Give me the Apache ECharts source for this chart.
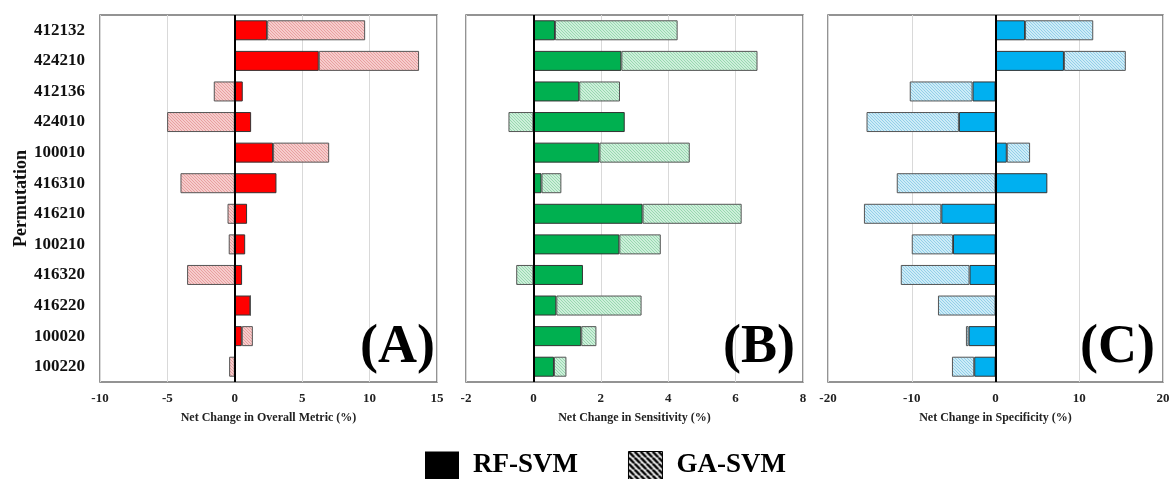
<!DOCTYPE html>
<html>
<head>
<meta charset="utf-8">
<script src="https://cdn.jsdelivr.net/npm/echarts@6/dist/echarts.min.js"></script>
<style>
html,body{margin:0;padding:0;background:#fff;}
#chart{width:1173px;height:479px;}
</style>
</head>
<body>
<div id="chart"></div>
<script>
// ---- data ----
var categories = ['412132','424210','412136','424010','100010','416310','416210','100210','416320','416220','100020','100220'];
// Panel A: Net change in overall metric (%)
var rfOverall = [2.40, 6.23, 0.59, 1.21, 2.84, 3.09, 0.91, 0.77, 0.54, 1.16, 0.52, 0.00];
var gaOverall = [7.27, 7.44, -1.56, -5.02, 4.16, -4.03, -0.54, -0.45, -3.54, 0.00, 0.82, -0.42];
// Panel B: Net change in sensitivity (%)
var rfSens = [0.64, 2.61, 1.36, 2.71, 1.96, 0.24, 3.24, 2.55, 1.47, 0.68, 1.42, 0.61];
var gaSens = [3.64, 4.04, 1.21, -0.74, 2.68, 0.59, 2.94, 1.23, -0.51, 2.53, 0.45, 0.37];
// Panel C: Net change in specificity (%)
var rfSpec = [3.53, 8.17, -2.74, -4.37, 1.35, 6.19, -6.47, -5.08, -3.10, 0.00, -3.21, -2.54];
var gaSpec = [8.14, 7.39, -7.50, -11.03, 2.78, -11.79, -9.24, -4.92, -8.21, -6.87, -0.32, -2.66];
var seriesNames = ['RF-SVM', 'GA-SVM'];
var axisTitles = ['Net Change in Overall Metric (%)', 'Net Change in Sensitivity (%)', 'Net Change in Specificity (%)'];
var panelLabels = ['(A)', '(B)', '(C)'];

// ---- styling ----
var FONT = '"Liberation Serif", "Times New Roman", serif';
function hatch(bg, fg, lw, s) {
  var c = document.createElement('canvas');
  c.width = s; c.height = s;
  var ctx = c.getContext('2d');
  ctx.fillStyle = bg; ctx.fillRect(0, 0, s, s);
  ctx.strokeStyle = fg; ctx.lineWidth = lw;
  [-s, 0, s].forEach(function (k) {
    ctx.beginPath(); ctx.moveTo(k, 0); ctx.lineTo(k + s, s); ctx.stroke();
  });
  return { image: c, repeat: 'repeat' };
}
var panels = [
  { rf: rfOverall, ga: gaOverall, min: -10, max: 15, interval: 5, solid: '#ff0000', hatch: hatch('#f6cccc', '#e8a0a0', 1, 3), left: 100, width: 337 },
  { rf: rfSens, ga: gaSens, min: -2, max: 8, interval: 2, solid: '#00b050', hatch: hatch('#cdefda', '#98d8b0', 1, 3), left: 466, width: 337 },
  { rf: rfSpec, ga: gaSpec, min: -20, max: 20, interval: 10, solid: '#00b0f0', hatch: hatch('#cdebf7', '#92cfe8', 1, 3), left: 828, width: 335 }
];

var grids = [], xAxes = [], yAxes = [], series = [];
panels.forEach(function (p, i) {
  grids.push({ left: p.left, width: p.width, top: 15, height: 367, show: true, borderColor: '#707070', borderWidth: 1.5, backgroundColor: '#fff' });
  xAxes.push({
    type: 'value', gridIndex: i, min: p.min, max: p.max, interval: p.interval,
    name: axisTitles[i], nameLocation: 'middle', nameGap: 30,
    nameTextStyle: { fontFamily: FONT, fontWeight: 'bold', fontSize: 12, color: '#222' },
    axisLine: { show: false }, axisTick: { show: false },
    axisLabel: { fontFamily: FONT, fontWeight: 'bold', fontSize: 13, color: '#222', margin: 10 },
    splitLine: { show: true, lineStyle: { color: '#d9d9d9', width: 1 } }
  });
  yAxes.push({
    type: 'category', gridIndex: i, data: categories, inverse: true,
    name: i === 0 ? 'Permutation' : '', nameLocation: 'middle', nameGap: 70, nameRotate: 90,
    nameTextStyle: { fontFamily: FONT, fontWeight: 'bold', fontSize: 18, color: '#111' },
    axisLine: { show: false }, axisTick: { show: false },
    axisLabel: { show: i === 0, fontFamily: FONT, fontWeight: 'bold', fontSize: 17, color: '#111', margin: 15 },
    splitLine: { show: false }
  });
  series.push({
    name: seriesNames[0], type: 'bar', xAxisIndex: i, yAxisIndex: i, stack: 's' + i,
    data: p.rf, barWidth: 20,
    itemStyle: { color: p.solid, borderColor: '#333', borderWidth: 1 },
    markLine: { silent: true, symbol: 'none', label: { show: false }, lineStyle: { color: '#000', width: 2, type: 'solid' }, data: [{ xAxis: 0 }], z: 10 }
  });
  series.push({
    name: seriesNames[1], type: 'bar', xAxisIndex: i, yAxisIndex: i, stack: 's' + i,
    data: p.ga, barWidth: 20,
    itemStyle: { color: p.hatch, borderColor: '#555', borderWidth: 1 }
  });
});

var graphics = [
  { type: 'text', right: 738, bottom: 104, z: 100, style: { text: panelLabels[0], font: 'bold 54px ' + FONT, fill: '#000' } },
  { type: 'text', right: 378, bottom: 104, z: 100, style: { text: panelLabels[1], font: 'bold 54px ' + FONT, fill: '#000' } },
  { type: 'text', right: 18, bottom: 104, z: 100, style: { text: panelLabels[2], font: 'bold 54px ' + FONT, fill: '#000' } }
];

var chart = echarts.init(document.getElementById('chart'), null, { renderer: 'canvas' });
chart.setOption({
  animation: false,
  backgroundColor: '#fff',
  grid: grids, xAxis: xAxes, yAxis: yAxes, series: series, graphic: graphics,
  legend: {
    left: 425, top: 451, padding: 0, itemWidth: 34, itemHeight: 28, itemGap: 50,
    selectedMode: false,
    textStyle: { fontFamily: FONT, fontWeight: 'bold', fontSize: 27, color: '#000', padding: [0, 0, 0, 9] },
    data: [
      { name: seriesNames[0], icon: 'rect', itemStyle: { color: '#000', borderWidth: 0 } },
      { name: seriesNames[1], icon: 'rect', itemStyle: { color: hatch('#fff', '#000', 2.6, 6), borderColor: '#000', borderWidth: 1 } }
    ]
  }
});
</script>
</body>
</html>
